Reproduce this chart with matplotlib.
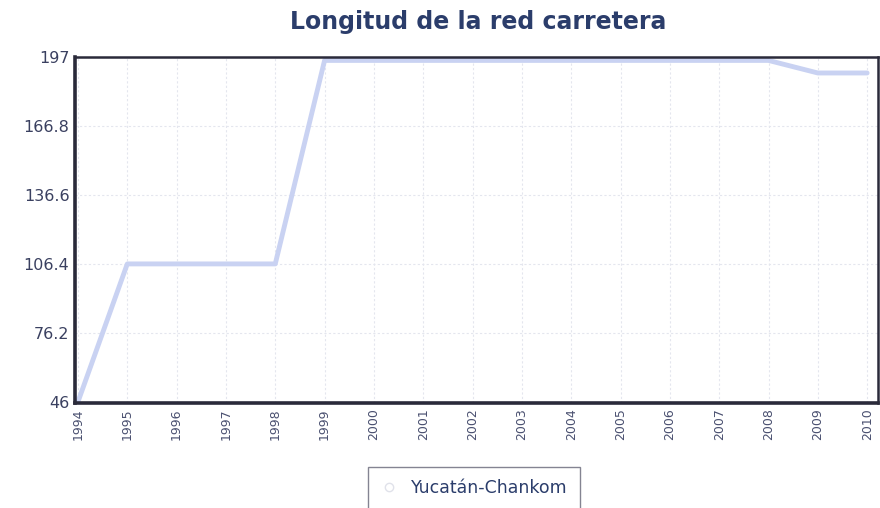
import matplotlib
matplotlib.use("Agg")
import matplotlib.pyplot as plt
from matplotlib.lines import Line2D

years = list(range(1994, 2011))
values = [46, 106.4, 106.4, 106.4, 106.4, 195.5, 195.5, 195.5, 195.5, 195.5,
          195.5, 195.5, 195.5, 195.5, 195.5, 190, 190]
yticks = [46, 76.2, 106.4, 136.6, 166.8, 197]
ytick_labels = ["46", "76.2", "106.4", "136.6", "166.8", "197"]
series_name = "Yucatán-Chankom"
title = "Longitud de la red carretera"

fig = plt.figure(figsize=(8.8, 5.08), dpi=100)
ax = fig.add_axes([75/880, 1-403/508, 803/880, 346/508])

ax.plot(years, values, color="#c9d2f2", lw=3.5, solid_capstyle="round")
ax.set_xlim(1993.94, 2010.22)
ax.set_ylim(45.5, 197)
ax.set_xticks(years)
ax.set_xticklabels([str(y) for y in years], rotation=90, fontsize=9, color="#4a5070")
ax.set_yticks(yticks)
ax.set_yticklabels(ytick_labels, fontsize=11.5, color="#3a4060")
ax.tick_params(length=0, pad=4)
ax.grid(True, color="#e4e6ee", lw=0.8, ls=(0, (2, 2)))

for s in ["left", "bottom"]:
    ax.spines[s].set_linewidth(2.6)
    ax.spines[s].set_color("#2a2a3a")
for s in ["top", "right"]:
    ax.spines[s].set_linewidth(1.8)
    ax.spines[s].set_color("#2a2a3a")

fig.text(478/880, 1-22/508, title, ha="center", va="center", fontsize=17,
         fontweight="bold", color="#2b3d6b")

handle = Line2D([], [], marker="o", color="none", markerfacecolor="white",
                markeredgecolor="#e0e2ea", markersize=6)
leg = fig.legend([handle], [series_name], loc="center", bbox_to_anchor=(474/880, 1-488/508),
                 frameon=True, fancybox=False, fontsize=12.5, handlelength=1.0,
                 borderpad=0.7, handletextpad=0.8, borderaxespad=0)
leg.get_frame().set_edgecolor("#666677")
leg.get_frame().set_linewidth(1.0)
for t in leg.get_texts():
    t.set_color("#2b3d6b")

fig.savefig("out.png", dpi=100)
